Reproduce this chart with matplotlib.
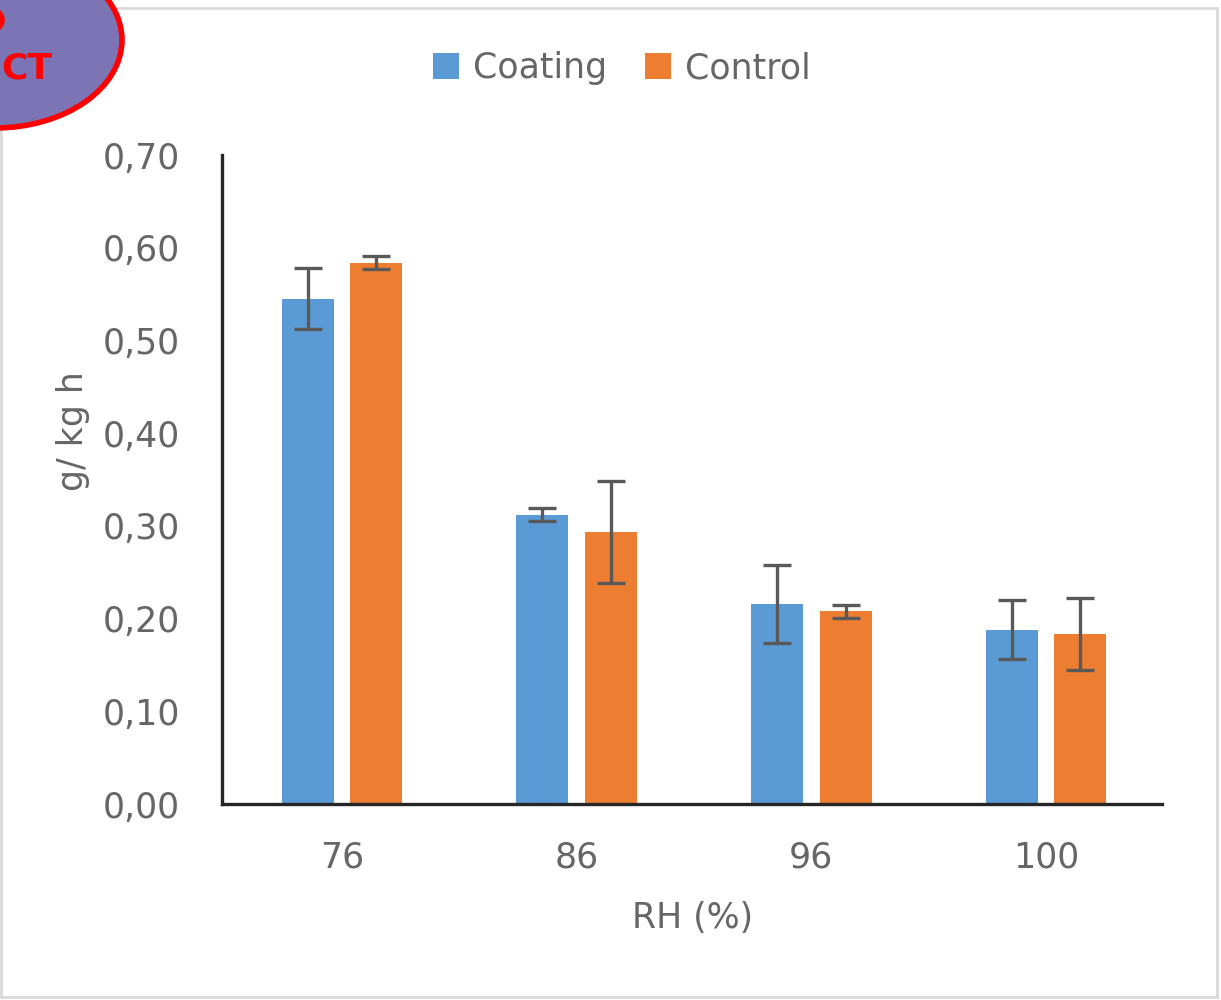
import matplotlib
matplotlib.use("Agg")
import matplotlib.pyplot as plt
from matplotlib.patches import Ellipse, Rectangle, Arc
from matplotlib.ticker import FuncFormatter
import numpy as np

# Data
rh_levels = ["76", "86", "96", "100"]
coating = [0.545, 0.312, 0.216, 0.188]
coating_err = [0.033, 0.007, 0.042, 0.032]
control = [0.584, 0.293, 0.208, 0.183]
control_err = [0.007, 0.055, 0.007, 0.039]
y_ticks = [0.0, 0.1, 0.2, 0.3, 0.4, 0.5, 0.6, 0.7]

BLUE = "#5B9BD5"
ORANGE = "#ED7D31"
TEXT = "#666666"
ERR = "#595959"
FS = 25

W, H = 1221, 1000
fig = plt.figure(figsize=(W / 100, H / 100), dpi=100)
fig.patch.set_facecolor("white")

# light grey frame around the chart area
fig.add_artist(Rectangle((1 / W, 3 / H), 1216 / W, (H - 11) / H,
                         transform=fig.transFigure, fill=False,
                         edgecolor="#d9d9d9", linewidth=2))

ax = fig.add_axes([222 / W, 1 - 804 / H, (1162 - 222) / W, (804 - 155) / H])

x = np.arange(len(rh_levels))
bw = 0.222
off = 0.146
err_kw = dict(ecolor=ERR, elinewidth=2.4, capsize=10, capthick=2.4)
ax.bar(x - off, coating, bw, color=BLUE, yerr=coating_err, error_kw=err_kw,
       label="Coating", zorder=2)
ax.bar(x + off, control, bw, color=ORANGE, yerr=control_err, error_kw=err_kw,
       label="Control", zorder=2)

ax.set_xlim(-0.511, 3.494)
ax.set_ylim(0, 0.70)
ax.set_yticks(y_ticks)
ax.yaxis.set_major_formatter(FuncFormatter(lambda v, p: f"{v:.2f}".replace(".", ",")))
ax.set_xticks(x)
ax.set_xticklabels(rh_levels)
ax.tick_params(axis="y", length=0, pad=30, labelsize=FS, labelcolor=TEXT)
ax.tick_params(axis="x", length=0, pad=26, labelsize=FS, labelcolor=TEXT)

for s in ["top", "right"]:
    ax.spines[s].set_visible(False)
for s in ["left", "bottom"]:
    ax.spines[s].set_color("#262626")
    ax.spines[s].set_linewidth(2.4)

ax.set_xlabel("RH (%)", fontsize=FS, color=TEXT)
ax.xaxis.set_label_coords((693 - 222) / (1162 - 222), -(901 - 804) / (804 - 155))
ax.set_ylabel("g/ kg h", fontsize=FS, color=TEXT)
ax.yaxis.set_label_coords(-(222 - 90) / (1162 - 222), (804 - 431) / (804 - 155))

leg = fig.legend(loc="center", bbox_to_anchor=(622 / W, 1 - 68 / H), ncol=2,
                 frameon=False, fontsize=FS, handlelength=0.75, handleheight=0.75,
                 handletextpad=0.4, columnspacing=1.1)
for t in leg.get_texts():
    t.set_color(TEXT)

# badge in the upper-left corner
fig.add_artist(Ellipse((-5 / W, 1 - 40 / H), 254 / W, 176 / H,
                       transform=fig.transFigure, facecolor="#7B75B5",
                       edgecolor="#FF0000", linewidth=4, zorder=5))
fig.add_artist(Arc((-6 / W, 1 - 20 / H), 16 / W, 18 / H, theta1=-90, theta2=90,
                   transform=fig.transFigure, color="#FF0000", linewidth=4, zorder=6))
fig.text(1 / W, 1 - 68 / H, "CT", ha="left", va="center", color="#FF0000",
         fontsize=26, fontweight="bold", zorder=6)

fig.savefig("out.png", dpi=100, facecolor="white")
